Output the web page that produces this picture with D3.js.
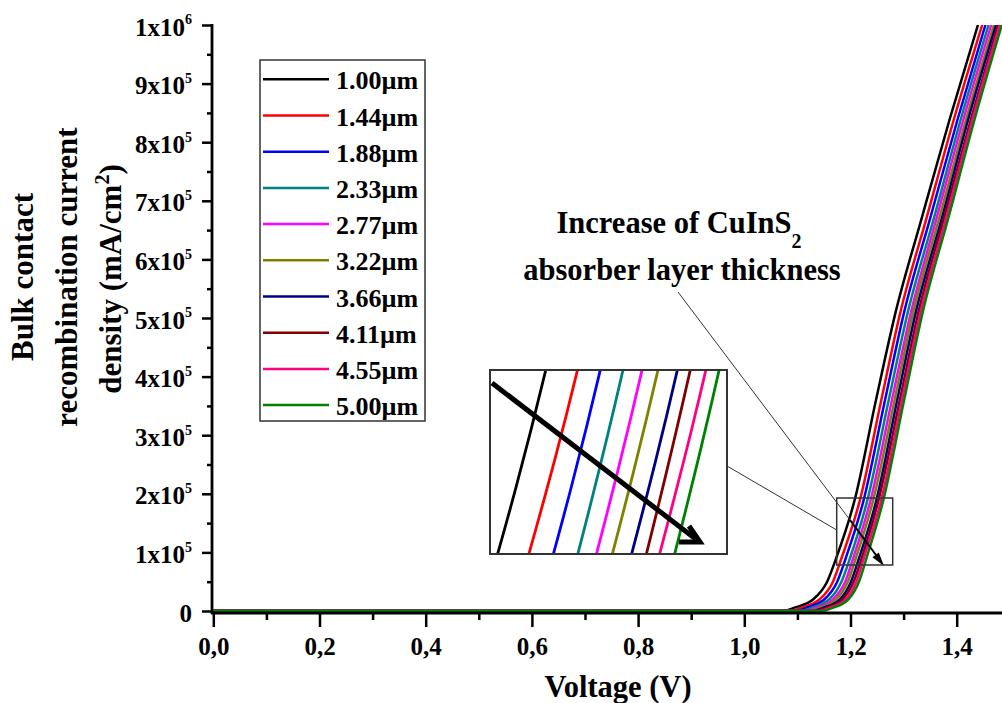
<!DOCTYPE html>
<html>
<head>
<meta charset="utf-8">
<script src="https://cdn.jsdelivr.net/npm/d3@7"></script>
<style>
body { margin: 0; background: #fff; }
text { font-family: "Liberation Serif", "Times New Roman", serif; font-weight: bold; fill: #000; }
</style>
</head>
<body>
<svg id="chart" width="1002" height="703"></svg>
<script>
// absorber thickness (legend)
var thickness = ["1.00", "1.44", "1.88", "2.33", "2.77", "3.22", "3.66", "4.11", "4.55", "5.00"];

var currentLevels = [0, 5e3, 2e4, 5e4, 9e4, 1.9e5, 3.6e5, 5.1e5, 6.7e5, 8.4e5, 1e6];

// voltage (V) reached by each curve at those levels
var v100 = [1.073, 1.092, 1.130, 1.156, 1.173, 1.208, 1.248, 1.285, 1.334, 1.387, 1.440];
var v144 = [1.087, 1.105, 1.142, 1.167, 1.183, 1.218, 1.258, 1.294, 1.343, 1.395, 1.448];
var v188 = [1.097, 1.115, 1.151, 1.175, 1.191, 1.225, 1.265, 1.301, 1.350, 1.402, 1.454];
var v233 = [1.107, 1.125, 1.160, 1.183, 1.199, 1.232, 1.272, 1.308, 1.357, 1.408, 1.460];
var v277 = [1.115, 1.133, 1.167, 1.190, 1.205, 1.238, 1.278, 1.314, 1.362, 1.413, 1.465];
var v322 = [1.122, 1.140, 1.173, 1.195, 1.210, 1.243, 1.283, 1.318, 1.367, 1.418, 1.470];
var v366 = [1.129, 1.147, 1.180, 1.201, 1.216, 1.249, 1.288, 1.323, 1.372, 1.422, 1.474];
var v411 = [1.136, 1.153, 1.185, 1.206, 1.221, 1.253, 1.293, 1.328, 1.376, 1.427, 1.478];
var v455 = [1.142, 1.159, 1.191, 1.211, 1.225, 1.258, 1.297, 1.332, 1.380, 1.430, 1.481];
var v500 = [1.148, 1.165, 1.196, 1.216, 1.230, 1.262, 1.301, 1.336, 1.384, 1.434, 1.485];
var voltages = [v100, v144, v188, v233, v277, v322, v366, v411, v455, v500];

var xTicks = [0, 0.2, 0.4, 0.6, 0.8, 1.0, 1.2, 1.4];
var yTicks = [0, 1e5, 2e5, 3e5, 4e5, 5e5, 6e5, 7e5, 8e5, 9e5, 1e6];

var colors = ["#000000", "#ff0000", "#0000ff", "#008080", "#ff00ff",
              "#808000", "#000080", "#800000", "#ff0080", "#008000"];

var svg = d3.select("#chart");

var x = d3.scaleLinear().domain([0, 1.5]).range([213.3, 1009.8]);
var y = d3.scaleLinear().domain([0, 1e6]).range([611, 25]);

var series = voltages.map(function (vs) {
    var pts = [[0, 0]];
    vs.forEach(function (v, j) { pts.push([v, currentLevels[j]]); });
    return pts;
});

var defs = svg.append("defs");
defs.append("clipPath").attr("id", "plotclip")
    .append("rect").attr("x", 212).attr("y", 25).attr("width", 800).attr("height", 589);
defs.append("clipPath").attr("id", "insetclip")
    .append("rect").attr("x", 490).attr("y", 370).attr("width", 237).attr("height", 184);

// main curves
var line = d3.line()
    .x(function (d) { return x(d[0]); })
    .y(function (d) { return y(d[1]); })
    .curve(d3.curveMonotoneX);

svg.append("g").attr("clip-path", "url(#plotclip)")
    .selectAll("path").data(series).enter()
    .append("path")
    .attr("d", line)
    .attr("fill", "none")
    .attr("stroke", function (d, i) { return colors[i]; })
    .attr("stroke-width", 2.5);

// axes
var fmtX = function (d) { return d3.format(".1f")(d).replace(".", ","); };

var xAxis = svg.append("g").attr("transform", "translate(0,613)")
    .call(d3.axisBottom(x).tickValues(xTicks).tickSize(14).tickPadding(10).tickFormat(fmtX));
svg.append("g").attr("transform", "translate(0,613)")
    .call(d3.axisBottom(x).tickValues([0.1, 0.3, 0.5, 0.7, 0.9, 1.1, 1.3, 1.5]).tickSize(7).tickFormat(""));

var yAxis = svg.append("g").attr("transform", "translate(212,0)")
    .call(d3.axisLeft(y).tickValues(yTicks).tickSize(10).tickPadding(10));
svg.append("g").attr("transform", "translate(212,0)")
    .call(d3.axisLeft(y).tickValues(d3.range(5e4, 1e6, 1e5)).tickSize(5).tickFormat(""));

svg.selectAll(".domain").remove();
svg.selectAll(".tick line").attr("stroke", "#000").attr("stroke-width", 2.5);
xAxis.selectAll(".tick text").attr("font-size", "25px").attr("font-family", null);

yAxis.selectAll(".tick text").each(function (d) {
    var t = d3.select(this).text("").attr("font-size", "25px").attr("font-family", null).attr("dy", "0.4em");
    if (d === 0) { t.text("0"); return; }
    var exp = d >= 1e6 ? 6 : 5;
    var mant = Math.round(d / Math.pow(10, exp));
    t.append("tspan").text(mant + "x10");
    t.append("tspan").attr("dy", "-0.8em").attr("font-size", "14px").text(exp);
});

svg.append("line").attr("x1", 212).attr("x2", 212).attr("y1", 24).attr("y2", 614)
    .attr("stroke", "#000").attr("stroke-width", 2.8);
svg.append("line").attr("x1", 211).attr("x2", 1002).attr("y1", 613).attr("y2", 613)
    .attr("stroke", "#000").attr("stroke-width", 2.8);

// axis titles
svg.append("text").attr("x", 618).attr("y", 697).attr("text-anchor", "middle")
    .attr("font-size", "30.5px").text("Voltage (V)");

var yTitle = [["Bulk contact", 33], ["recombination current", 77]];
yTitle.forEach(function (l) {
    svg.append("text").attr("transform", "translate(" + l[1] + ",277) rotate(-90)")
        .attr("text-anchor", "middle").attr("font-size", "31px").text(l[0]);
});
var t3 = svg.append("text").attr("transform", "translate(121,279) rotate(-90)")
    .attr("text-anchor", "middle").attr("font-size", "31px");
t3.append("tspan").text("density (mA/cm");
t3.append("tspan").attr("dy", "-0.6em").attr("font-size", "20px").text("2");
t3.append("tspan").attr("dy", "0.4em").text(")");

// legend
var legend = svg.append("g");
legend.append("rect").attr("x", 260).attr("y", 60).attr("width", 165).attr("height", 361)
    .attr("fill", "#fff").attr("stroke", "#333").attr("stroke-width", 1.5);
var item = legend.selectAll(".item").data(thickness).enter().append("g")
    .attr("transform", function (d, i) { return "translate(0," + (79.3 + i * 36.2) + ")"; });
item.append("line").attr("x1", 263).attr("x2", 329)
    .attr("stroke", function (d, i) { return colors[i]; }).attr("stroke-width", 2.5);
item.append("text").attr("x", 336).attr("y", 10).attr("font-size", "26px")
    .text(function (d) { return d + "\u00b5m"; });

// annotation
var a1 = svg.append("text").attr("x", 679).attr("y", 233).attr("text-anchor", "middle").attr("font-size", "30.5px");
a1.append("tspan").text("Increase of CuInS");
a1.append("tspan").attr("dy", "15").attr("font-size", "20px").text("2");
svg.append("text").attr("x", 682).attr("y", 280).attr("text-anchor", "middle").attr("font-size", "30.5px")
    .text("absorber layer thickness");

svg.append("line").attr("x1", 678).attr("y1", 292).attr("x2", 850).attr("y2", 520)
    .attr("stroke", "#333").attr("stroke-width", 1);
svg.append("line").attr("x1", 727).attr("y1", 466).attr("x2", 836.7).attr("y2", 530)
    .attr("stroke", "#333").attr("stroke-width", 1);
svg.append("line").attr("x1", 850).attr("y1", 520).attr("x2", 876).attr("y2", 555)
    .attr("stroke", "#000").attr("stroke-width", 2);
svg.append("path").attr("d", "M884,566L872.4,557.2L878.8,552.4Z").attr("fill", "#000");

// small zoom box
svg.append("rect").attr("x", 836.7).attr("y", 498).attr("width", 56).attr("height", 67)
    .attr("fill", "none").attr("stroke", "#333").attr("stroke-width", 1.5);

// inset
var xi = d3.scaleLinear().domain([1.1823, 1.2567]).range([490, 727]);
var yi = d3.scaleLinear().domain([1.2e5, 1.63e5]).range([554, 370]);
var lineInset = d3.line()
    .x(function (d) { return xi(d[0]); })
    .y(function (d) { return yi(d[1]); })
    .curve(d3.curveMonotoneX);

svg.append("rect").attr("x", 490).attr("y", 370).attr("width", 237).attr("height", 184)
    .attr("fill", "#fff");
svg.append("g").attr("clip-path", "url(#insetclip)")
    .selectAll("path").data(series).enter()
    .append("path")
    .attr("d", lineInset)
    .attr("fill", "none")
    .attr("stroke", function (d, i) { return colors[i]; })
    .attr("stroke-width", 2.8);
svg.append("rect").attr("x", 490).attr("y", 370).attr("width", 237).attr("height", 184)
    .attr("fill", "none").attr("stroke", "#333").attr("stroke-width", 2);

svg.append("line").attr("x1", 492).attr("y1", 383).attr("x2", 697).attr("y2", 540)
    .attr("stroke", "#000").attr("stroke-width", 5);
svg.append("path").attr("d", "M689,526L700,542L679,542")
    .attr("fill", "none").attr("stroke", "#000").attr("stroke-width", 5);
</script>
</body>
</html>
